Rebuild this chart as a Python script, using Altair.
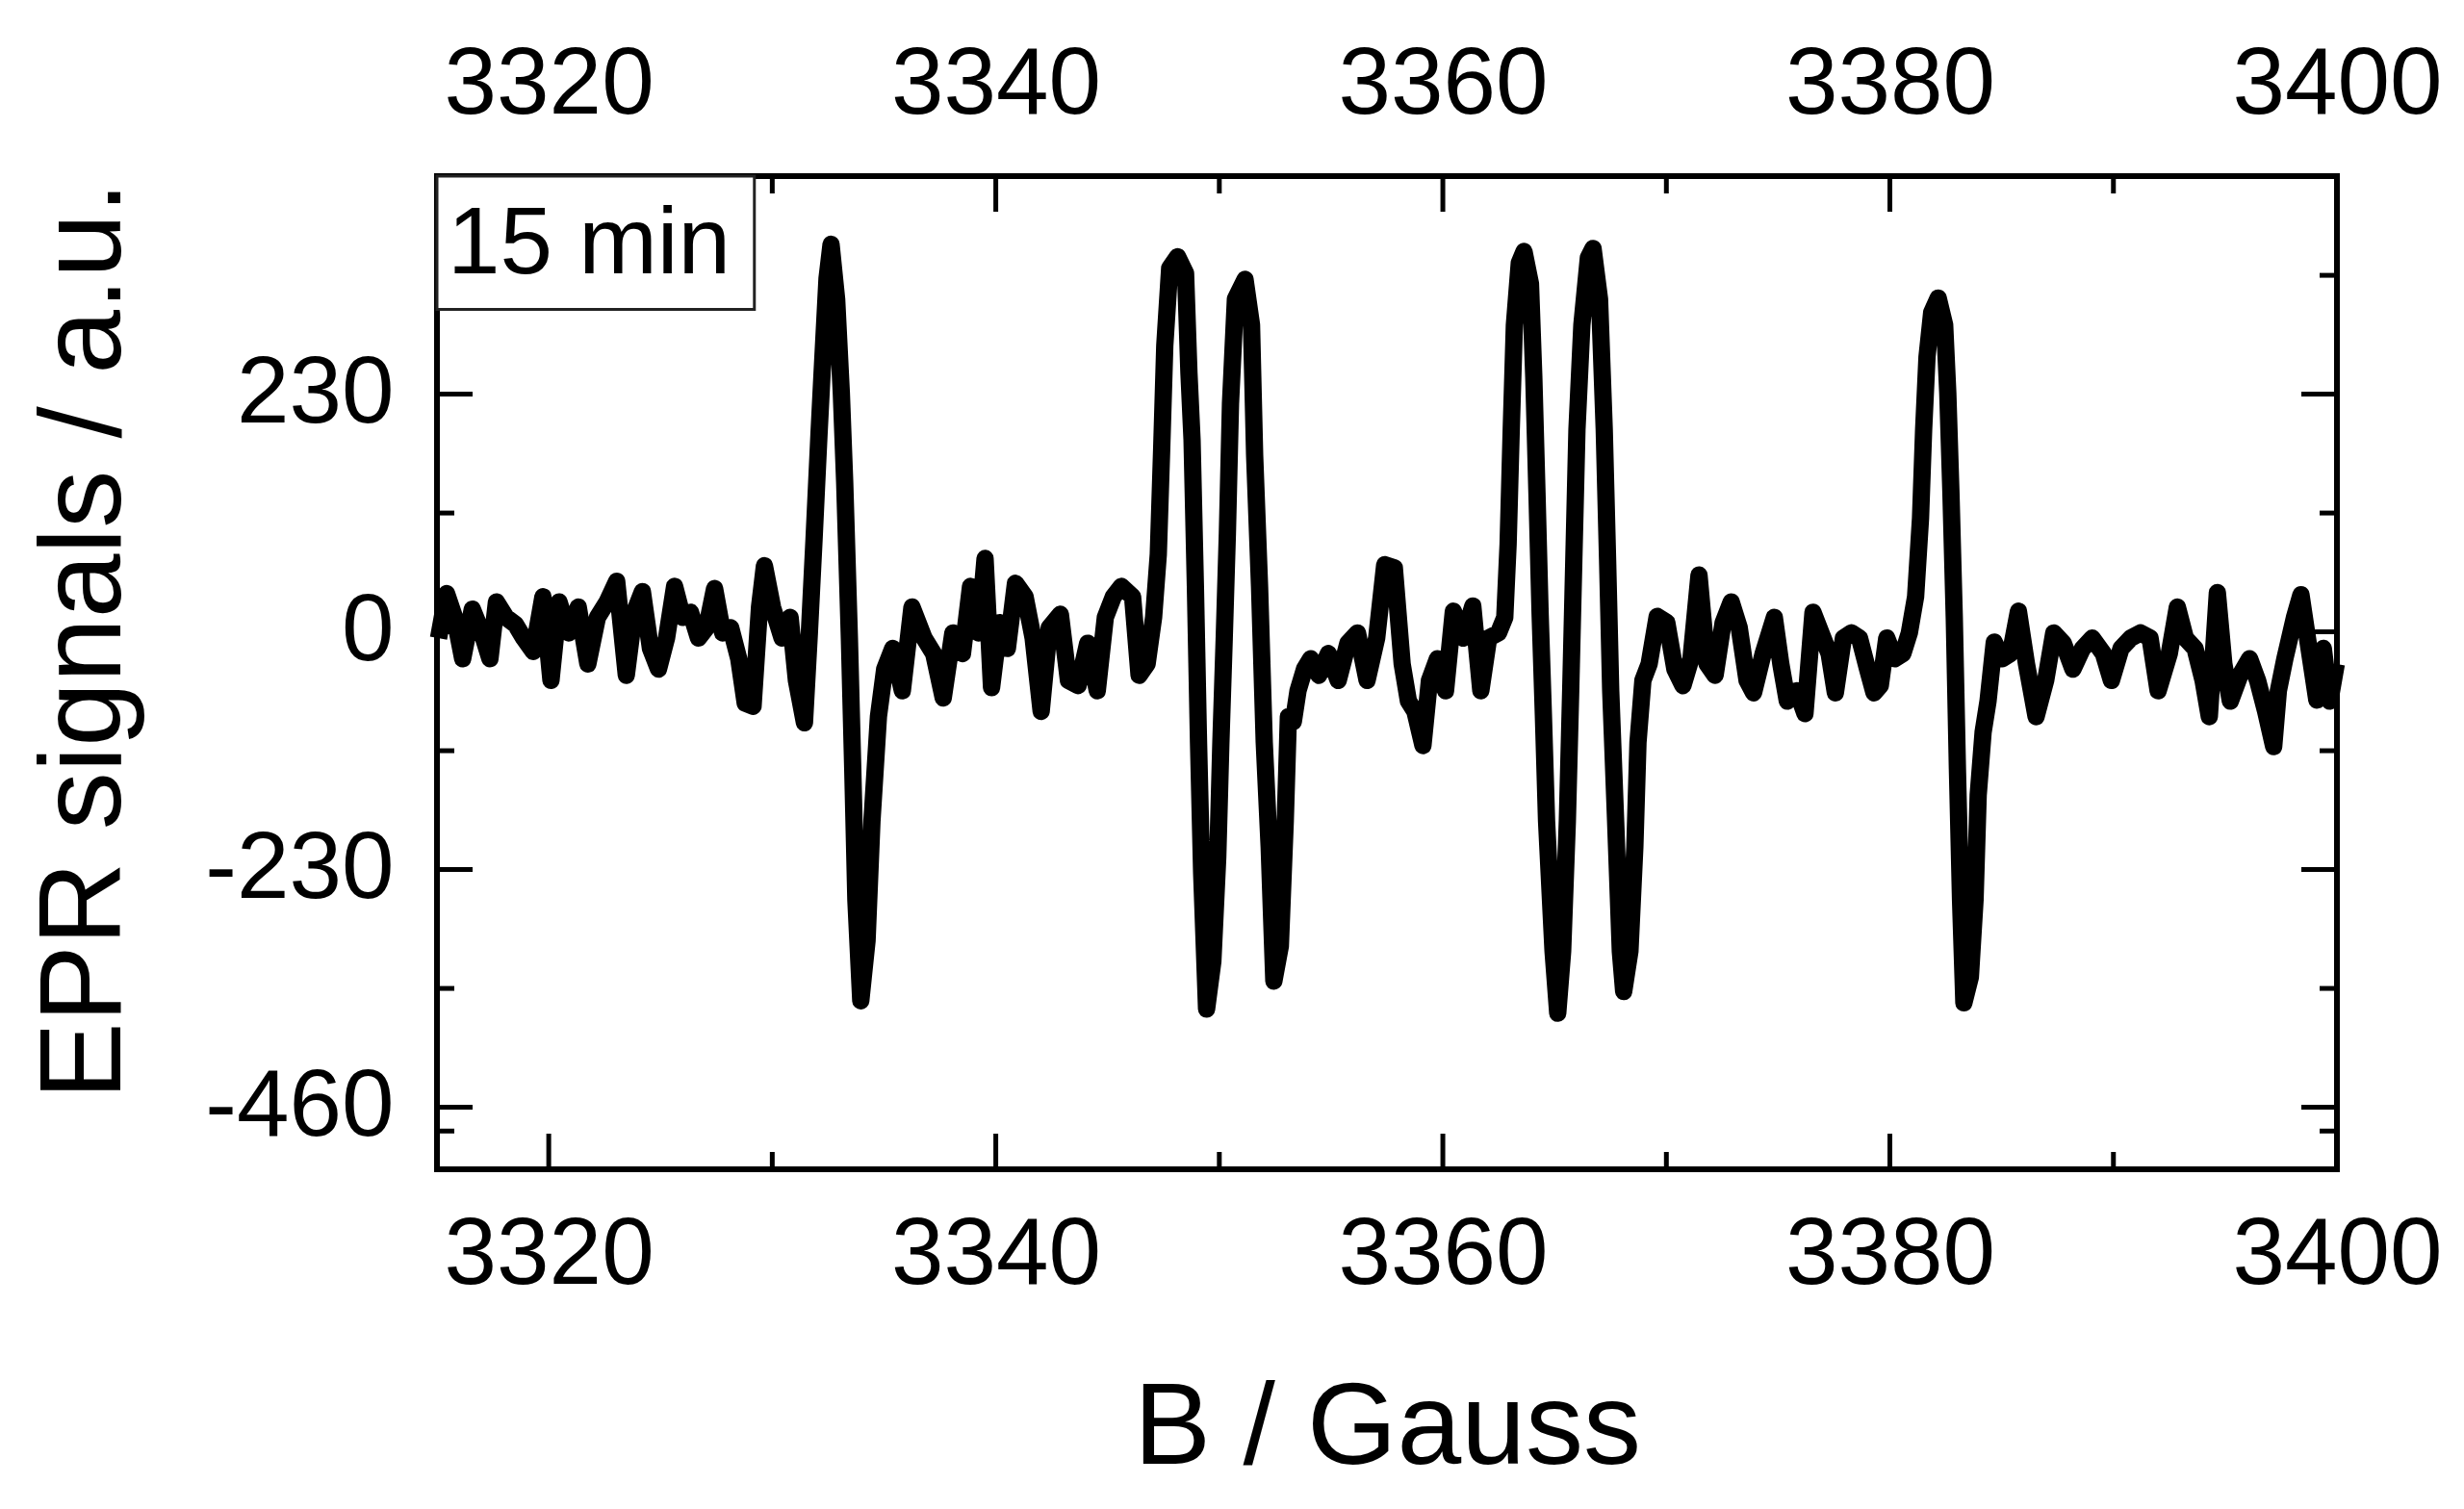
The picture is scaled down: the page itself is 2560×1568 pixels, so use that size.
import altair as alt
import pandas as pd

# ---- data ----
B_gauss = [
    3315.07, 3315.43, 3315.79, 3316.15, 3316.58, 3317.01, 3317.37, 3317.66, 3318.09, 3318.52,
    3318.88, 3319.31, 3319.74, 3320.10, 3320.46, 3320.89, 3321.32, 3321.75, 3322.18, 3322.61,
    3323.04, 3323.47, 3323.83, 3324.19, 3324.55, 3324.91, 3325.27, 3325.63, 3325.99, 3326.34,
    3326.70, 3327.06, 3327.42, 3327.78, 3328.14, 3328.50, 3328.79, 3329.14, 3329.43, 3329.65,
    3330.01, 3330.44, 3330.80, 3331.08, 3331.44, 3331.66, 3331.87, 3332.09, 3332.23, 3332.45,
    3332.63, 3332.88, 3333.09, 3333.24, 3333.45, 3333.60, 3333.74, 3333.96, 3334.24, 3334.46,
    3334.75, 3335.03, 3335.39, 3335.82, 3336.25,
    3336.79, 3337.22, 3337.65, 3338.08, 3338.51, 3338.87, 3339.23, 3339.52, 3339.81, 3340.17,
    3340.52, 3340.88, 3341.31, 3341.67, 3342.03, 3342.39, 3342.89, 3343.25, 3343.68, 3344.11,
    3344.54, 3344.90, 3345.26, 3345.62, 3346.12, 3346.41, 3346.77, 3347.06, 3347.27, 3347.42,
    3347.56, 3347.78, 3348.13, 3348.49, 3348.64, 3348.78, 3348.93, 3349.07, 3349.21, 3349.43,
    3349.71, 3349.93, 3350.07, 3350.22, 3350.36, 3350.50, 3350.72, 3351.15, 3351.44, 3351.58,
    3351.80, 3352.01, 3352.23, 3352.44, 3352.73, 3352.95, 3353.09, 3353.31, 3353.52, 3353.81,
    3354.09, 3354.45, 3354.88, 3355.32, 3355.75, 3356.18, 3356.61, 3357.04, 3357.40, 3357.83,
    3358.18, 3358.46, 3358.75, 3359.11, 3359.40, 3359.76, 3360.12, 3360.47, 3360.91, 3361.34,
    3361.70, 3362.05, 3362.49, 3362.77, 3362.92, 3363.06, 3363.20, 3363.42, 3363.63, 3363.92,
    3364.07, 3364.21, 3364.35, 3364.50, 3364.64, 3364.93, 3365.14, 3365.36, 3365.57, 3365.72,
    3365.86, 3366.00, 3366.22, 3366.51, 3366.72, 3367.01, 3367.22, 3367.37, 3367.51, 3367.73,
    3367.94, 3368.09, 3368.37, 3368.59, 3368.73, 3368.95, 3369.23, 3369.59, 3370.02, 3370.38,
    3370.74, 3371.10, 3371.46, 3371.82, 3372.18, 3372.54, 3372.90, 3373.26, 3373.61, 3373.90,
    3374.33, 3374.83, 3375.12, 3375.41, 3375.84, 3376.20, 3376.56, 3376.92, 3377.28, 3377.56,
    3377.92, 3378.28, 3378.64, 3379.00, 3379.29,
    3379.57, 3379.86, 3380.22, 3380.58, 3380.87, 3381.15, 3381.37, 3381.51, 3381.66, 3381.87,
    3382.16, 3382.45, 3382.59, 3382.73, 3382.88, 3383.02, 3383.16, 3383.31, 3383.60, 3383.81,
    3383.95, 3384.17, 3384.39, 3384.67, 3385.03, 3385.39, 3385.75, 3386.11, 3386.54, 3386.97,
    3387.33, 3387.76, 3388.19, 3388.62, 3389.05, 3389.55, 3389.91, 3390.34, 3390.78, 3391.21,
    3391.64, 3392.00, 3392.50, 3392.86, 3393.22, 3393.65, 3394.01, 3394.29, 3394.65, 3394.94,
    3395.23, 3395.66, 3396.09, 3396.45, 3396.81, 3397.17, 3397.38, 3397.67, 3398.10, 3398.39,
    3398.75, 3399.10, 3399.39, 3399.68, 3399.97,
]

epr_signal = [
    -6, 37, 14, -26, 22, -1, -26, 29, 14, 7,
    -6, -19, 34, -47, 29, -1, 24, -31, 14, 29,
    49, -42, 19, 39, -16, -36, -6, 44, 14, 19,
    -6, 4, 42, -1, 4, -26, -69, -72, 24, 64,
    24, -6, 14, -47, -88, -1, 90, 191, 251, 342,
    375, 322, 231, 145, -6, -132, -259, -357, -299, -183,
    -82, -36, -16, -57, 24,
    -6, -21, -64, -1, -21, 44, -1, 71, -54, 9,
    -16, 47, 34, -6, -77, 4, 17, -47, -52, -11,
    -57, 14, 34, 44, 34, -42, -31, 14, 75, 176,
    277, 352, 363, 347, 251, 186, 44, -107, -233, -365,
    -319, -218, -107, -6, 95, 221, 322, 341, 297, 171,
    44, -107, -208, -338, -304, -183, -82, -87, -57, -36,
    -26, -42, -21, -47, -11, -1, -47, -6, 65, 62,
    -31, -67, -77, -110, -47, -26, -57, 20, -6, 25,
    -57, -6, -1, 14, 85, 196, 297, 357, 368, 337,
    246, 135, 19, -82, -183, -309, -369, -309, -183, -57,
    70, 196, 297, 362, 371, 322, 196, 70, -57, -183,
    -309, -348, -309, -208, -107, -47, -31, 15, 9, -36,
    -52, -26, 55, -31, -42, 9, 29, 4, -47, -59,
    -21, 14, -31, -67, -57, -79, 19, -1, -21, -59,
    -6, -1, -6, -36, -59,
    -52, -6, -26, -21, -1, 34, 110, 196, 266, 309,
    323, 297, 231, 135, 14, -132, -259, -359, -334, -259,
    -158, -97, -67, -10, -26, -21, 20, -31, -82, -47,
    -1, -11, -36, -16, -6, -21, -47, -16, -6, -1,
    -6, -57, -21, 24, -6, -16, -47, -82, 38, -31,
    -67, -42, -26, -47, -77, -111, -57, -26, 14, 36,
    -16, -66, -16, -67, -31,
]

x_major = [3320, 3340, 3360, 3380, 3400]
x_minor = [3330, 3350, 3370, 3390]
y_major = [230, 0, -230, -460]
y_minor = [345, 115, -115, -345, -483]

x_domain = [3315, 3400]
y_domain = [-520, 441]

label_text = ["15 min"]
label_box_x = [3315.0, 3329.2]
label_box_y = [441.0, 312.0]
label_pos = [3315.47, 347.0]

# ---- chart ----
W, H = 1974, 1032
FONT = "Liberation Sans"
MAJ, MIN = 37, 18
TICK_W = 5

xs = alt.Scale(domain=x_domain, nice=False, zero=False)
ys = alt.Scale(domain=y_domain, nice=False, zero=False)

df = pd.DataFrame({"B": B_gauss, "S": epr_signal})

common_axis = dict(
    domain=False, ticks=False, tickSize=0, grid=False,
    labelFont=FONT, labelFontSize=98, labelColor="black", labelLimit=0,
    labelFlush=False, labelOverlap=False,
    labelExpr="'' + datum.value", zindex=1,
)

line = alt.Chart(df).mark_line(
    color="black", strokeWidth=18, strokeJoin="round"
).encode(
    x=alt.X("B:Q", scale=xs, axis=alt.Axis(
        orient="bottom", values=x_major, labelPadding=41,
        title="B / Gauss", titleFont=FONT, titleFontSize=120,
        titleFontWeight="normal", titleColor="black", titleLimit=0,
        titleBaseline="alphabetic", titleAlign="center",
        titleX=W / 2, titleY=305, **common_axis)),
    y=alt.Y("S:Q", scale=ys, axis=alt.Axis(
        orient="left", values=y_major, labelPadding=45,
        title="EPR signals / a.u.", titleFont=FONT, titleFontSize=120,
        titleFontWeight="normal", titleColor="black", titleLimit=0,
        titleAngle=270, titleBaseline="alphabetic", titleAlign="center",
        titleX=-330, titleY=482, **common_axis)),
    order="B:Q",
)

xmaj_df = pd.DataFrame({"v": x_major})
xmin_df = pd.DataFrame({"v": x_minor})
ymaj_df = pd.DataFrame({"v": y_major})
ymin_df = pd.DataFrame({"v": y_minor})

def xticks(data, top, length, axis=None):
    if top:
        enc = dict(y=alt.value(0), y2=alt.value(length))
    else:
        enc = dict(y=alt.value(H - length), y2=alt.value(H))
    return alt.Chart(data).mark_rule(color="black", strokeWidth=TICK_W).encode(
        x=alt.X("v:Q", scale=xs, axis=axis), **enc)

def yticks(data, right, length):
    if right:
        enc = dict(x=alt.value(W - length), x2=alt.value(W))
    else:
        enc = dict(x=alt.value(0), x2=alt.value(length))
    return alt.Chart(data).mark_rule(color="black", strokeWidth=TICK_W).encode(
        y=alt.Y("v:Q", scale=ys, axis=None), **enc)

top_axis = alt.Axis(orient="top", values=x_major, labelPadding=45, title=None,
                    **common_axis)

ticks = [
    xticks(xmaj_df, True, MAJ, axis=top_axis),
    xticks(xmin_df, True, MIN),
    xticks(xmaj_df, False, MAJ),
    xticks(xmin_df, False, MIN),
    yticks(ymaj_df, False, MAJ),
    yticks(ymin_df, False, MIN),
    yticks(ymaj_df, True, MAJ),
    yticks(ymin_df, True, MIN),
]

box_df = pd.DataFrame({"x": [label_box_x[0]], "x2": [label_box_x[1]],
                       "y": [label_box_y[0]], "y2": [label_box_y[1]]})
box = alt.Chart(box_df).mark_rect(fill="white", stroke="#222222", strokeWidth=3).encode(
    x=alt.X("x:Q", scale=xs, axis=None), x2="x2:Q",
    y=alt.Y("y:Q", scale=ys, axis=None), y2="y2:Q",
)
txt_df = pd.DataFrame({"x": [label_pos[0]], "y": [label_pos[1]], "t": label_text})
txt = alt.Chart(txt_df).mark_text(
    align="left", baseline="alphabetic", font=FONT, fontSize=98, color="black"
).encode(
    x=alt.X("x:Q", scale=xs, axis=None),
    y=alt.Y("y:Q", scale=ys, axis=None),
    text="t:N",
)

chart = alt.layer(line, *ticks, box, txt).resolve_axis(
    x="independent", y="independent"
).properties(
    width=W, height=H,
    autosize=alt.AutoSizeParams(type="none"),
    padding={"left": 446, "top": 175, "right": 116, "bottom": 330},
    background="white",
).configure_view(stroke="black", strokeWidth=6)

chart.save("out.html", embed_options={"renderer": "svg", "actions": False})
